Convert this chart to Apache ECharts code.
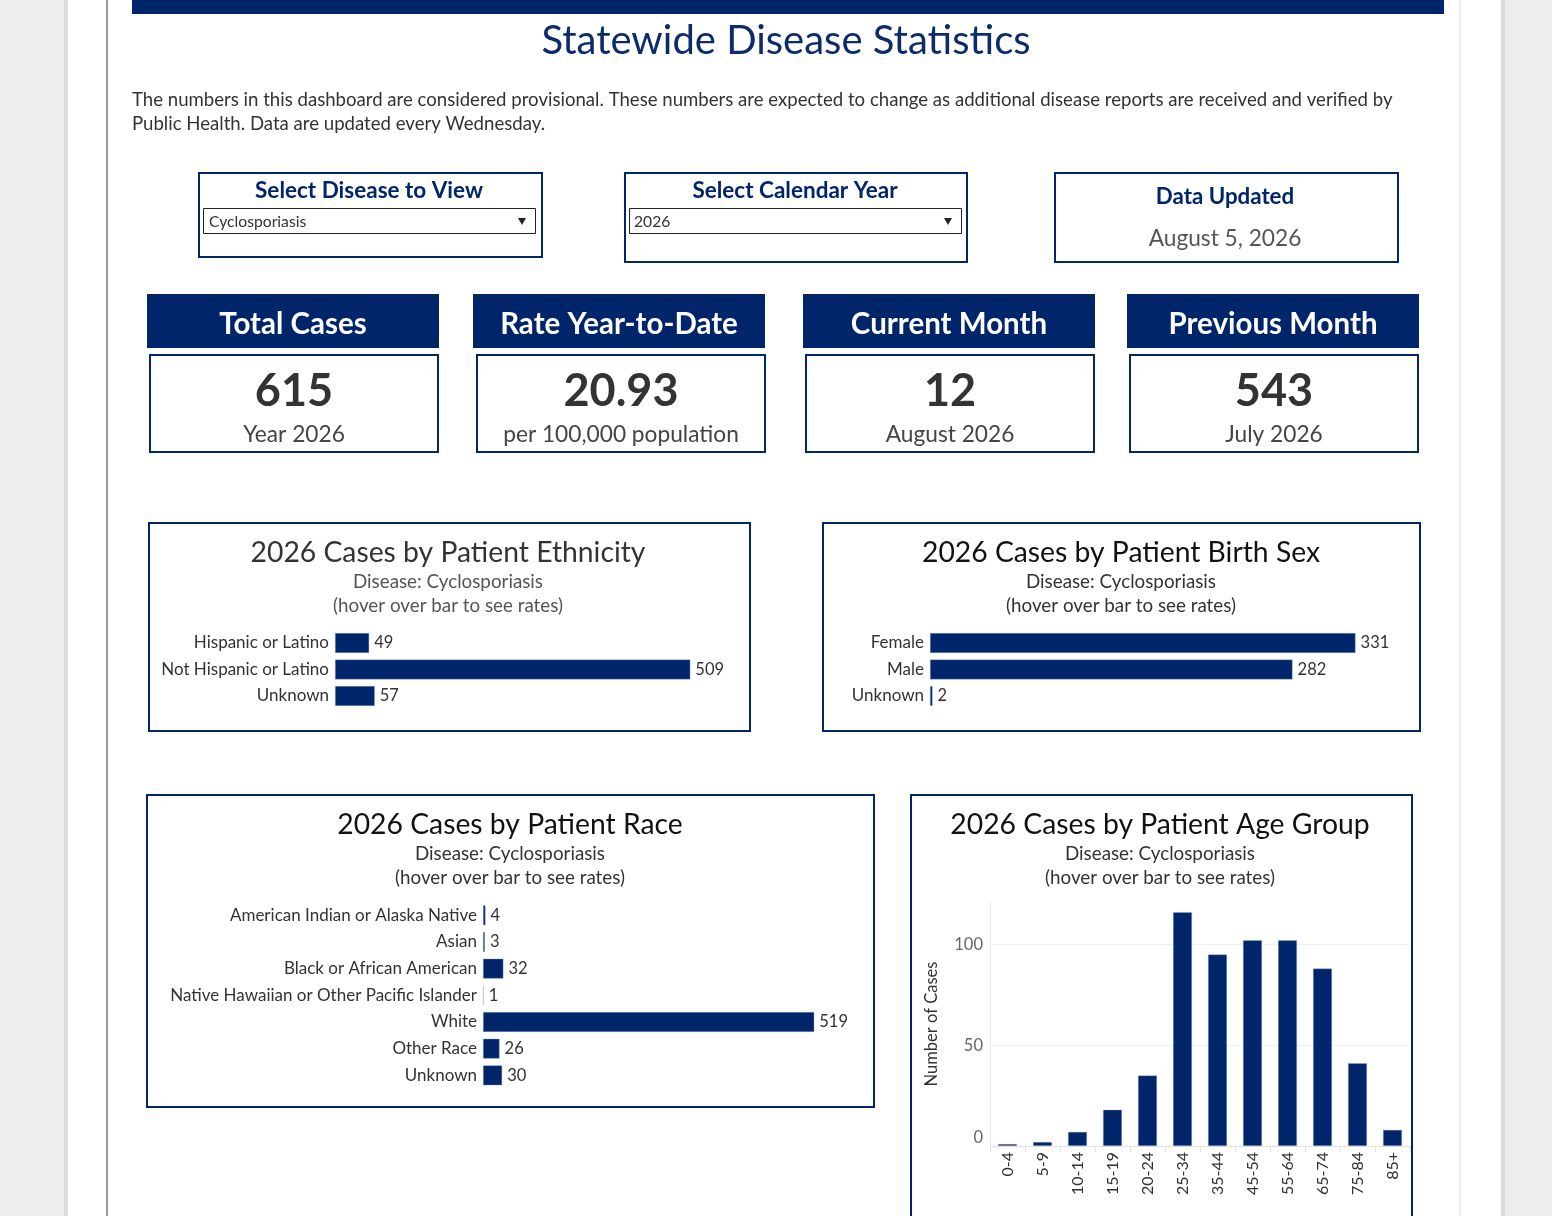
<!DOCTYPE html>
<html>
<head>
<meta charset="utf-8">
<script src="https://cdn.jsdelivr.net/npm/echarts@6/dist/echarts.min.js"></script>
<style>
html,body{margin:0;padding:0;background:#ededed;}
#chart{width:1552px;height:1216px;}
</style>
</head>
<body>
<div id="chart"></div>
<script>
// ---- data ----
const ethnicityCats = ['Hispanic or Latino', 'Not Hispanic or Latino', 'Unknown'];
const ethnicityVals = [49, 509, 57];
const sexCats = ['Female', 'Male', 'Unknown'];
const sexVals = [331, 282, 2];
const raceCats = ['American Indian or Alaska Native', 'Asian', 'Black or African American',
  'Native Hawaiian or Other Pacific Islander', 'White', 'Other Race', 'Unknown'];
const raceVals = [4, 3, 32, 1, 519, 26, 30];
const ageCats = ['0-4', '5-9', '10-14', '15-19', '20-24', '25-34', '35-44', '45-54', '55-64', '65-74', '75-84', '85+'];
const ageVals = [1, 2, 7, 18, 35, 116, 95, 102, 102, 88, 41, 8];
const ageTicks = [0, 50, 100];
const kpiTitles = ['Total Cases', 'Rate Year-to-Date', 'Current Month', 'Previous Month'];
const kpiValues = ['615', '20.93', '12', '543'];
const kpiSubs = ['Year 2026', 'per 100,000 population', 'August 2026', 'July 2026'];
const diseaseName = 'Cyclosporiasis';
const yearName = '2026';
const updatedDate = 'August 5, 2026';

// ---- style ----
const NAVY = '#00256a';
const FONT = 'Lato, "Noto Sans", sans-serif';

const chart = echarts.init(document.getElementById('chart'), null, {renderer: 'canvas'});

function txt(x, y, text, size, color, weight, align) {
  return {type: 'text', x: x, y: y + 1, z: 5, style: {text: text, fontSize: size, fill: color,
    fontWeight: weight || 'normal', fontFamily: FONT, textAlign: align || 'center', textVerticalAlign: 'middle'}};
}
function box(x1, y1, x2, y2, stroke, lw, fill) {
  return {type: 'rect', z: 1, shape: {x: x1, y: y1, width: x2 - x1, height: y2 - y1},
    style: {fill: fill || 'none', stroke: stroke, lineWidth: lw}};
}
function fillRect(x1, y1, x2, y2, color, z) {
  return {type: 'rect', z: z == null ? 0 : z, shape: {x: x1, y: y1, width: x2 - x1, height: y2 - y1}, style: {fill: color}};
}

const g = [];
// page
g.push(fillRect(68, 0, 1501, 1216, '#ffffff', -1));
g.push(fillRect(64, 0, 68, 1216, '#dcdcdc', -1));
g.push(fillRect(1501, 0, 1505, 1216, '#dcdcdc', -1));
g.push(fillRect(106, 0, 108, 1216, '#9a9a9a', 0));
g.push(fillRect(1459, 0, 1461, 1216, '#ececec', 0));
// top bar + title
g.push(fillRect(132, 0, 1444, 14, NAVY, 1));
g.push(txt(786, 40, 'Statewide Disease Statistics', 40, '#0b2b6b', 'normal'));
g.push(txt(132, 99, 'The numbers in this dashboard are considered provisional. These numbers are expected to change as additional disease reports are received and verified by', 18.6, '#333', 'normal', 'left'));
g.push(txt(132, 123, 'Public Health. Data are updated every Wednesday.', 18.6, '#333', 'normal', 'left'));

// selectors
g.push(box(199, 173, 542, 257, NAVY, 2));
g.push(txt(369, 190, 'Select Disease to View', 22.5, NAVY, 'bold'));
g.push(box(203.5, 208.5, 535.5, 233.5, '#222', 1, '#fff'));
g.push(txt(209, 221, diseaseName, 15.7, '#333', 'normal', 'left'));
g.push({type: 'polygon', z: 5, shape: {points: [[518, 218], [526, 218], [522, 225]]}, style: {fill: '#222'}});

g.push(box(625, 173, 967, 262, NAVY, 2));
g.push(txt(795, 190, 'Select Calendar Year', 22.5, NAVY, 'bold'));
g.push(box(629.5, 208.5, 961.5, 233.5, '#222', 1, '#fff'));
g.push(txt(634, 221, yearName, 15.7, '#333', 'normal', 'left'));
g.push({type: 'polygon', z: 5, shape: {points: [[944, 218], [952, 218], [948, 225]]}, style: {fill: '#222'}});

g.push(box(1055, 173, 1398, 262, NAVY, 2));
g.push(txt(1225, 196, 'Data Updated', 22.3, NAVY, 'bold'));
g.push(txt(1225, 238, updatedDate, 22.7, '#555', 'normal'));

// KPIs
const kpiX = [[147, 439, 149, 439], [473, 765, 476, 766], [803, 1095, 805, 1095], [1127, 1419, 1129, 1419]];
kpiTitles.forEach(function (t, i) {
  const k = kpiX[i];
  g.push(fillRect(k[0], 294, k[1], 348, NAVY, 1));
  g.push(txt((k[0] + k[1]) / 2, 323, t, 29.5, '#ffffff', 'bold'));
  g.push(box(k[2] + 1, 355, k[3] - 1, 452, NAVY, 2));
  g.push(txt((k[2] + k[3]) / 2, 390, kpiValues[i], 45, '#333', 'bold'));
  g.push(txt((k[2] + k[3]) / 2, 434, kpiSubs[i], 22.7, '#444', 'normal'));
});

// chart boxes
g.push(box(149, 523, 750, 731, NAVY, 2));
g.push(txt(448, 552, '2026 Cases by Patient Ethnicity', 28.3, '#333', 'normal'));
g.push(txt(448, 581, 'Disease: ' + diseaseName, 18.8, '#555', 'normal'));
g.push(txt(448, 605, '(hover over bar to see rates)', 18.8, '#555', 'normal'));

g.push(box(823, 523, 1420, 731, NAVY, 2));
g.push(txt(1121, 552, '2026 Cases by Patient Birth Sex', 28.3, '#111', 'normal'));
g.push(txt(1121, 581, 'Disease: ' + diseaseName, 18.8, '#333', 'normal'));
g.push(txt(1121, 605, '(hover over bar to see rates)', 18.8, '#333', 'normal'));

g.push(box(147, 795, 874, 1107, NAVY, 2));
g.push(txt(510, 824, '2026 Cases by Patient Race', 28.3, '#111', 'normal'));
g.push(txt(510, 853, 'Disease: ' + diseaseName, 18.8, '#333', 'normal'));
g.push(txt(510, 877, '(hover over bar to see rates)', 18.8, '#333', 'normal'));

g.push(box(911, 795, 1412, 1240, NAVY, 2));
g.push(txt(1160, 824, '2026 Cases by Patient Age Group', 28.3, '#111', 'normal'));
g.push(txt(1160, 853, 'Disease: ' + diseaseName, 18.8, '#333', 'normal'));
g.push(txt(1160, 877, '(hover over bar to see rates)', 18.8, '#333', 'normal'));

function hCatAxis(idx, cats) {
  return {type: 'category', gridIndex: idx, data: cats, inverse: true,
    axisLine: {show: false}, axisTick: {show: false},
    axisLabel: {fontFamily: FONT, fontSize: 17, color: '#333', margin: 6}};
}
function hValAxis(idx, max) {
  return {type: 'value', gridIndex: idx, min: 0, max: max, show: false, splitLine: {show: false}};
}
function hBar(idx, vals) {
  return {type: 'bar', xAxisIndex: idx, yAxisIndex: idx, data: vals, barWidth: 20,
    itemStyle: {color: NAVY, borderColor: 'rgba(150,170,205,0.6)', borderWidth: 0.6},
    label: {show: true, position: 'right', distance: 5, fontFamily: FONT, fontSize: 16.5, color: '#333'}};
}

const option = {
  animation: false,
  graphic: g,
  grid: [
    {left: 335, top: 629.75, width: 384, height: 79.5},
    {left: 930, top: 629.75, width: 450, height: 79.5},
    {left: 483, top: 902, width: 383, height: 186.67},
    {left: 990, top: 902, width: 420, height: 244}
  ],
  xAxis: [
    hValAxis(0, 550),
    hValAxis(1, 350),
    hValAxis(2, 600),
    {type: 'category', gridIndex: 3, data: ageCats,
      axisLine: {show: true, lineStyle: {color: '#e2e2e2'}},
      axisTick: {show: true, length: 6, lineStyle: {color: '#e2e2e2'}},
      axisLabel: {rotate: 90, fontFamily: FONT, fontSize: 16, color: '#333', margin: 6}}
  ],
  yAxis: [
    hCatAxis(0, ethnicityCats),
    hCatAxis(1, sexCats),
    hCatAxis(2, raceCats),
    {type: 'value', gridIndex: 3, min: 0, max: 121, interval: 50,
      name: 'Number of Cases', nameLocation: 'middle', nameGap: 50, nameRotate: 90,
      nameTextStyle: {fontFamily: FONT, fontSize: 16.5, color: '#333'},
      axisLine: {show: true, lineStyle: {color: '#ececec'}},
      axisTick: {show: false},
      splitLine: {show: true, lineStyle: {color: ['#f0f0f0', '#f0f0f0', '#f0f0f0', 'rgba(0,0,0,0)']}},
      axisLabel: {fontFamily: FONT, fontSize: 16.5, color: '#666', margin: 7, showMaxLabel: false,
        formatter: function (v) {
          if (ageTicks.indexOf(v) < 0) return '';
          return v === 0 ? '{z|0}' : String(v);
        },
        rich: {z: {fontFamily: FONT, fontSize: 16.5, color: '#666', padding: [0, 0, 17, 0]}}}}
  ],
  series: [
    hBar(0, ethnicityVals),
    hBar(1, sexVals),
    hBar(2, raceVals),
    {type: 'bar', xAxisIndex: 3, yAxisIndex: 3, data: ageVals, barWidth: 19,
      itemStyle: {color: NAVY, borderColor: 'rgba(150,170,205,0.6)', borderWidth: 0.6}}
  ]
};
chart.setOption(option);
</script>
</body>
</html>
